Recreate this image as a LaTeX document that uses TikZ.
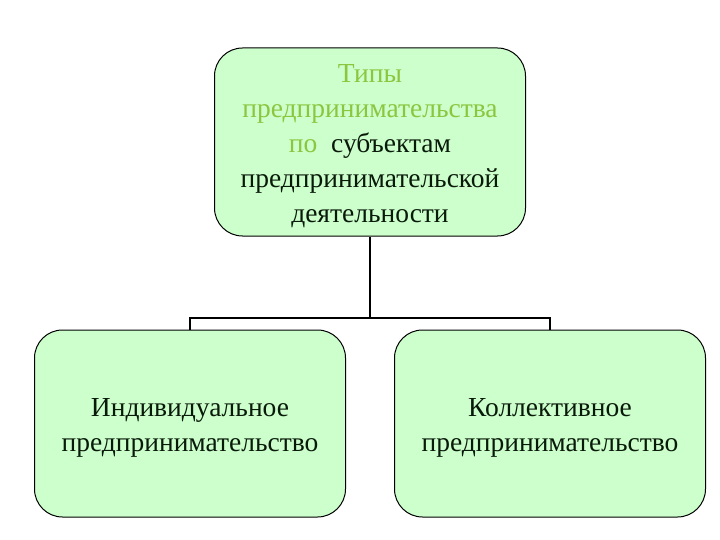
\documentclass[tikz,border=0pt]{standalone}
\usepackage{fontspec}
\setmainfont{Liberation Serif}
\definecolor{boxfill}{HTML}{CCFFCC}
\definecolor{tgreen}{HTML}{8CC63F}
\definecolor{tdark}{HTML}{0A1A0A}
\tikzset{
  box/.style={draw=black, line width=1pt, fill=boxfill, rounded corners=28pt},
  txt/.style={align=center, inner sep=0pt, font=\fontsize{27.5}{35}\selectfont, text=tdark},
  conn/.style={draw=black, line width=2pt}
}
\begin{document}
\begin{tikzpicture}[x=1pt,y=-1pt]
\useasboundingbox (0,0) rectangle (720,540);
\node[box, minimum width=311pt, minimum height=188pt] (top) at (370,142) {};
\node[txt] (toptext) at (370,146)
  {\textcolor{tgreen}{Типы}\\
   \textcolor{tgreen}{предпринимательства}\\
   \textcolor{tgreen}{по}\ \ субъектам\\
   предпринимательской\\
   деятельности};
\node[box, minimum width=311pt, minimum height=187pt] (left) at (190,423.5) {};
\node[txt] (lefttext) at (190,428) {Индивидуальное\\предпринимательство};
\node[box, minimum width=311pt, minimum height=187pt] (right) at (550,423.5) {};
\node[txt] (righttext) at (550,428) {Коллективное\\предпринимательство};
\coordinate (j) at (370,318);
\draw[conn] (top.south) -- (j);
\draw[conn] (left.north) |- (j) -| (right.north);
\end{tikzpicture}
\end{document}
